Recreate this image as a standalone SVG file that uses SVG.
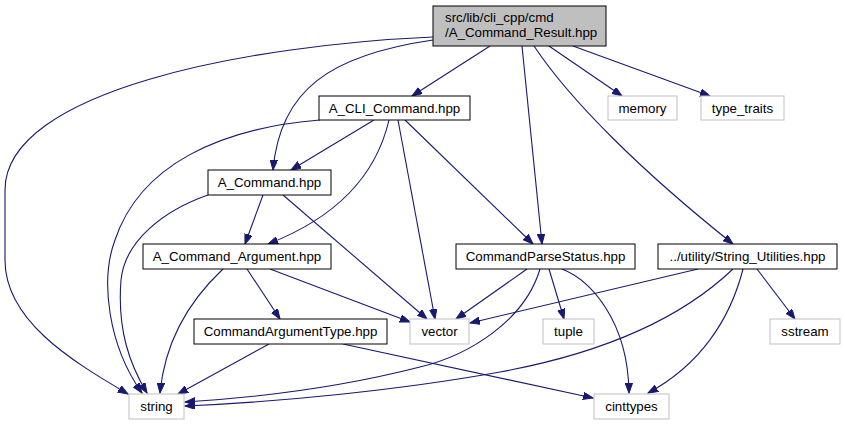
<svg xmlns="http://www.w3.org/2000/svg" width="845" height="425" viewBox="0 0 845 425">
<style>
text{font-family:"Liberation Sans",Arial,sans-serif;font-size:13.3px;fill:#000;text-anchor:middle}
.n rect{fill:#fff;stroke:#000;stroke-width:1}
.x rect{fill:#fff;stroke:#bfbfbf;stroke-width:1}
.e path{fill:none;stroke:#191970;stroke-width:1.1;marker-end:url(#ah)}
</style>
<defs>
<marker id="ah" markerUnits="userSpaceOnUse" markerWidth="11" markerHeight="8" refX="10" refY="3.75" orient="auto" viewBox="0 0 11 8">
<path d="M0,0 L10,3.75 L0,7.5 z" fill="#191970" stroke="#191970" stroke-width="1"/>
</marker>
</defs>
<rect width="845" height="425" fill="#fff"/>
<g class="e" id="edges">
<path d="M433,37 C250,45 5,90 5,190 L5,260 C5,320 70,360 128,394"/>
<path d="M433,40 C330,55 280,90 273,170"/>
<path d="M490,46 L412,96"/>
<path d="M522,46 L542,244"/>
<path d="M534,46 C570,100 640,170 733,244"/>
<path d="M549,46 L622,96"/>
<path d="M573,46 L710,96"/>
<path d="M320,120 C220,128 140,165 115,240 C100,280 108,345 142,393"/>
<path d="M374,120 L291,170"/>
<path d="M389,120 C375,180 330,220 268,244"/>
<path d="M398,120 L435,319"/>
<path d="M405,120 L533,244"/>
<path d="M208,195 C165,210 125,240 121,280 C117,330 130,365 147,393"/>
<path d="M263,195 L245,244"/>
<path d="M283,195 L427,319"/>
<path d="M223,269 C190,300 165,340 160,393"/>
<path d="M247,269 L280,319"/>
<path d="M270,269 L410,322"/>
<path d="M269,344 L178,394"/>
<path d="M343,344 L593,398"/>
<path d="M527,269 L456,319"/>
<path d="M540,269 C525,320 470,355 420,367 C330,390 250,398 185,402"/>
<path d="M549,269 L564,319"/>
<path d="M562,269 C590,280 628,320 629,393"/>
<path d="M733,269 C690,310 620,350 500,372 C400,390 280,402 185,406"/>
<path d="M698,269 L470,323"/>
<path d="M743,269 C730,320 700,365 648,393"/>
<path d="M757,269 L795,319"/>
</g>
<g id="root"><rect x="433" y="6" width="173" height="40" fill="#bfbfbf" stroke="#000"/><text x="445" y="22" style="text-anchor:start">src/lib/cli_cpp/cmd</text><text x="445" y="37" style="text-anchor:start">/A_Command_Result.hpp</text></g>
<g id="a_cli_command" class="n"><rect x="319" y="96" width="151" height="24"/><text x="394.5" y="113">A_CLI_Command.hpp</text></g>
<g id="memory" class="x"><rect x="608" y="96" width="69" height="24"/><text x="642.5" y="113">memory</text></g>
<g id="type_traits" class="x"><rect x="701" y="96" width="83" height="24"/><text x="742.5" y="113">type_traits</text></g>
<g id="a_command" class="n"><rect x="208" y="170" width="123" height="25"/><text x="269.5" y="187">A_Command.hpp</text></g>
<g id="a_command_argument" class="n"><rect x="143" y="244" width="188" height="25"/><text x="237" y="261">A_Command_Argument.hpp</text></g>
<g id="commandparsestatus" class="n"><rect x="456" y="244" width="179" height="25"/><text x="545.5" y="261">CommandParseStatus.hpp</text></g>
<g id="string_utilities" class="n"><rect x="658" y="244" width="179" height="25"/><text x="747.5" y="261">../utility/String_Utilities.hpp</text></g>
<g id="commandargumenttype" class="n"><rect x="194" y="319" width="193" height="25"/><text x="290.5" y="336">CommandArgumentType.hpp</text></g>
<g id="vector" class="x"><rect x="410" y="319" width="59" height="25"/><text x="439.5" y="336">vector</text></g>
<g id="tuple" class="x"><rect x="543" y="319" width="51" height="25"/><text x="568.5" y="336">tuple</text></g>
<g id="sstream" class="x"><rect x="770" y="319" width="70" height="25"/><text x="805" y="336">sstream</text></g>
<g id="string" class="x"><rect x="129" y="394" width="55" height="25"/><text x="156.5" y="411">string</text></g>
<g id="cinttypes" class="x"><rect x="594" y="394" width="75" height="25"/><text x="631.5" y="411">cinttypes</text></g>
</svg>
